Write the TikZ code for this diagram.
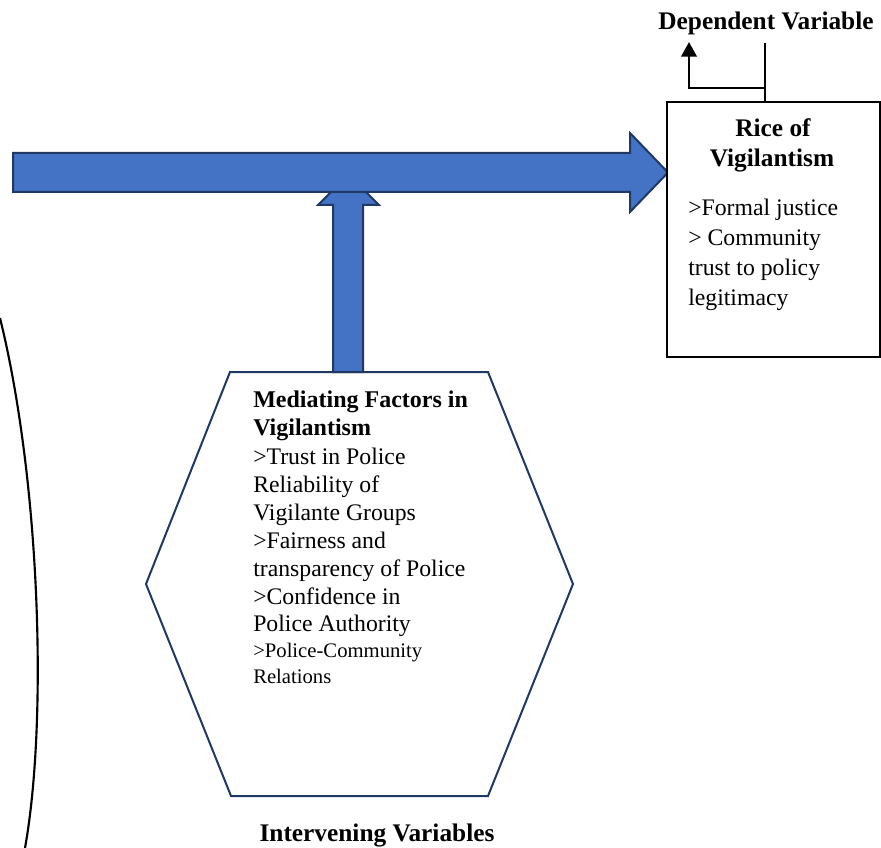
\documentclass[tikz,border=0pt]{standalone}
\usepackage{fontspec}
\setmainfont{Liberation Serif}
\usetikzlibrary{arrows.meta}
\definecolor{arrowfill}{HTML}{4472C4}
\definecolor{navy}{HTML}{1F3864}
\tikzset{
  blockarrow/.style={fill=arrowfill, draw=navy, line width=1.5pt, line join=miter},
  hexshape/.style={draw=navy, line width=1.5pt, fill=white, line join=miter},
  varbox/.style={draw=black, line width=1.5pt, fill=white},
  headtxt/.style={font=\bfseries\fontsize{19pt}{22pt}\selectfont, inner sep=0pt},
  bodytxt/.style={font=\fontsize{17.8pt}{21pt}\selectfont, inner sep=0pt, anchor=base west},
  smalltxt/.style={font=\fontsize{15.5pt}{19pt}\selectfont, inner sep=0pt, anchor=base west},
  bracket/.style={draw=black, line width=2.2pt},
}
\begin{document}
\begin{tikzpicture}[x=0.75pt,y=-0.75pt]
\useasboundingbox (0,0) rectangle (881,848);
% left curve
\draw[line width=1.6pt] (0,318) .. controls (40,480) and (48,720) .. (25,848);
% hexagon
\draw[hexshape] (230,372) -- (488,372) -- (573,584) -- (488,796) -- (231,796) -- (146,584) -- cycle;
% vertical block arrow
\draw[blockarrow] (333,372) -- (333,205) -- (318,205) -- (348.5,174.5) -- (379,205) -- (363,205) -- (363,372) -- cycle;
% horizontal block arrow
\draw[blockarrow] (13,153) -- (630,153) -- (630,133) -- (668,172.5) -- (630,212) -- (630,192) -- (13,192) -- cycle;
% dependent variable box
\node[varbox, minimum width=159.75pt, minimum height=191.25pt, inner sep=0pt] (box) at (773.5,229.5) {};
\coordinate (stemtop) at (765,43);
\coordinate (stembase) at (765,102);
\coordinate (elbow) at (689,88);
\coordinate (tip) at (689,42);
\draw[bracket] (stemtop) -- (stembase);
\draw[bracket, -{Triangle[width=11.5pt,length=11pt]}] (stembase |- elbow) -- (elbow) -- (tip);
% labels
\node[headtxt, anchor=base] (dep) at (766,30) {Dependent Variable};
\node[headtxt, anchor=base] (int) at (377,841) {Intervening Variables};
\node[headtxt, anchor=base] (rt1) at (773,137) {Rice of};
\node[headtxt, anchor=base] (rt2) at (772,167) {Vigilantism};
\foreach \t [count=\i] in {>Formal justice, > Community, trust to policy, legitimacy}
  \node[bodytxt] (b\i) at (688,{186+30*\i}) {\t};
\node[headtxt, anchor=base west, font=\bfseries\fontsize{18pt}{21pt}\selectfont] (m1) at (253,407) {Mediating Factors in};
\node[headtxt, anchor=base west, font=\bfseries\fontsize{18pt}{21pt}\selectfont] (m2) at (253,435) {Vigilantism};
\foreach \t/\yy [count=\i] in {>Trust in Police/464, Reliability of/492, Vigilante Groups/520, >Fairness and/548, transparency of Police/576, >Confidence in/604, Police Authority/631}
  \node[bodytxt] (h\i) at (253,\yy) {\t};
\node[smalltxt] (s1) at (253,657) {>Police-Community};
\node[smalltxt] (s2) at (253,683) {Relations};
\end{tikzpicture}
\end{document}
